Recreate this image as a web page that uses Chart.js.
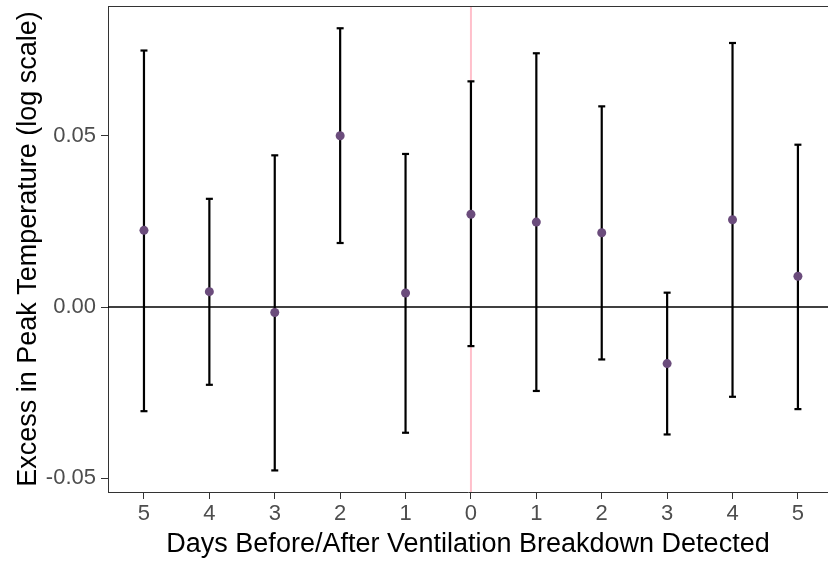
<!DOCTYPE html>
<html>
<head>
<meta charset="utf-8">
<script src="https://cdn.jsdelivr.net/npm/chart.js@4.4.0/dist/chart.umd.min.js"></script>
<style>
  html, body { margin: 0; padding: 0; background: #fff; overflow: hidden; }
  #wrap { position: relative; width: 828px; height: 564px; }
</style>
</head>
<body>
<div id="wrap"><canvas id="effectChart"></canvas></div>
<script>
// values (log-scale excess in peak temperature)
const dayLabels = ['5', '4', '3', '2', '1', '0', '1', '2', '3', '4', '5'];
const estimates = [0.0224, 0.0045, -0.0016, 0.0500, 0.0041, 0.0271, 0.0248, 0.0217, -0.0165, 0.0255, 0.0090];
const upperCI = [0.0749, 0.0316, 0.0443, 0.0814, 0.0447, 0.0659, 0.0741, 0.0586, 0.0042, 0.0771, 0.0474];
const lowerCI = [-0.0304, -0.0227, -0.0477, 0.0187, -0.0367, -0.0114, -0.0245, -0.0153, -0.0372, -0.0262, -0.0298];
const yTicks = [-0.05, 0, 0.05];
const breakdownIndex = 5;

const fontFamily = '"Liberation Sans", Arial, sans-serif';

function strokeLine(ctx, x1, y1, x2, y2) {
    ctx.beginPath();
    ctx.moveTo(x1, y1);
    ctx.lineTo(x2, y2);
    ctx.stroke();
}

const errorBarPlugin = {
    id: 'errorBars',
    beforeDatasetsDraw(chart) {
        const ctx = chart.ctx;
        const xs = chart.scales.x;
        const ys = chart.scales.y;
        const area = chart.chartArea;
        ctx.save();
        // day the breakdown was detected
        const bx = xs.getPixelForValue(breakdownIndex + 1);
        ctx.strokeStyle = '#ffc0cb';
        ctx.lineWidth = 2;
        strokeLine(ctx, bx, area.top, bx, area.bottom);
        // zero reference
        const zy = ys.getPixelForValue(0);
        ctx.strokeStyle = '#000';
        ctx.lineWidth = 1.6;
        strokeLine(ctx, area.left, zy, area.right, zy);
        // confidence intervals
        ctx.lineWidth = 2.2;
        estimates.forEach((_, i) => {
            const x = xs.getPixelForValue(i + 1);
            const yHi = ys.getPixelForValue(upperCI[i]);
            const yLo = ys.getPixelForValue(lowerCI[i]);
            strokeLine(ctx, x, yHi, x, yLo);
            strokeLine(ctx, x - 3.5, yHi, x + 3.5, yHi);
            strokeLine(ctx, x - 3.5, yLo, x + 3.5, yLo);
        });
        ctx.restore();
    },
    afterDraw(chart) {
        const ctx = chart.ctx;
        const area = chart.chartArea;
        ctx.save();
        ctx.strokeStyle = '#333333';
        ctx.lineWidth = 1;
        strokeLine(ctx, area.left, area.top + 0.5, area.right, area.top + 0.5);
        ctx.restore();
    }
};

const ctx = document.getElementById('effectChart').getContext('2d');
new Chart(ctx, {
    type: 'scatter',
    data: {
        datasets: [{
            data: estimates.map((v, i) => ({ x: i + 1, y: v })),
            backgroundColor: '#6b4c7c',
            borderColor: '#6b4c7c',
            pointRadius: 4.5,
            borderWidth: 0
        }]
    },
    options: {
        responsive: true,
        maintainAspectRatio: false,
        animation: false,
        layout: { autoPadding: false, padding: { top: 6, right: 0, left: 0, bottom: 0 } },
        plugins: {
            legend: { display: false },
            tooltip: { enabled: false }
        },
        scales: {
            x: {
                type: 'linear',
                min: 0.45,
                max: 11.46,
                afterFit(scale) {
                    scale.height = 72;
                    scale.paddingLeft = 0;
                    scale.paddingRight = 0;
                },
                afterBuildTicks(scale) {
                    scale.ticks = dayLabels.map((_, i) => ({ value: i + 1 }));
                },
                ticks: {
                    callback: v => dayLabels[v - 1],
                    color: '#4d4d4d',
                    font: { family: fontFamily, size: 22 },
                    padding: 2,
                    maxRotation: 0
                },
                grid: { drawOnChartArea: false, drawTicks: true, tickLength: 7, color: '#333333', lineWidth: 1 },
                border: { display: true, color: '#333333', width: 1 },
                title: {
                    display: true,
                    text: 'Days Before/After Ventilation Breakdown Detected',
                    color: '#000',
                    font: { family: fontFamily, size: 27 },
                    padding: { top: 0, bottom: 3 }
                }
            },
            y: {
                min: -0.054,
                max: 0.0879,
                afterFit(scale) {
                    scale.width = 108;
                    scale.paddingTop = 0;
                    scale.paddingBottom = 0;
                },
                afterBuildTicks(scale) {
                    scale.ticks = yTicks.map(v => ({ value: v }));
                },
                ticks: {
                    callback: v => v.toFixed(2),
                    color: '#4d4d4d',
                    font: { family: fontFamily, size: 22 },
                    padding: 5
                },
                grid: { drawOnChartArea: false, drawTicks: true, tickLength: 7, color: '#333333', lineWidth: 1 },
                border: { display: true, color: '#333333', width: 1 },
                title: {
                    display: true,
                    text: 'Excess in Peak Temperature (log scale)',
                    color: '#000',
                    font: { family: fontFamily, size: 27 },
                    padding: { top: 12, bottom: 0 }
                }
            }
        }
    },
    plugins: [errorBarPlugin]
});
</script>
</body>
</html>
